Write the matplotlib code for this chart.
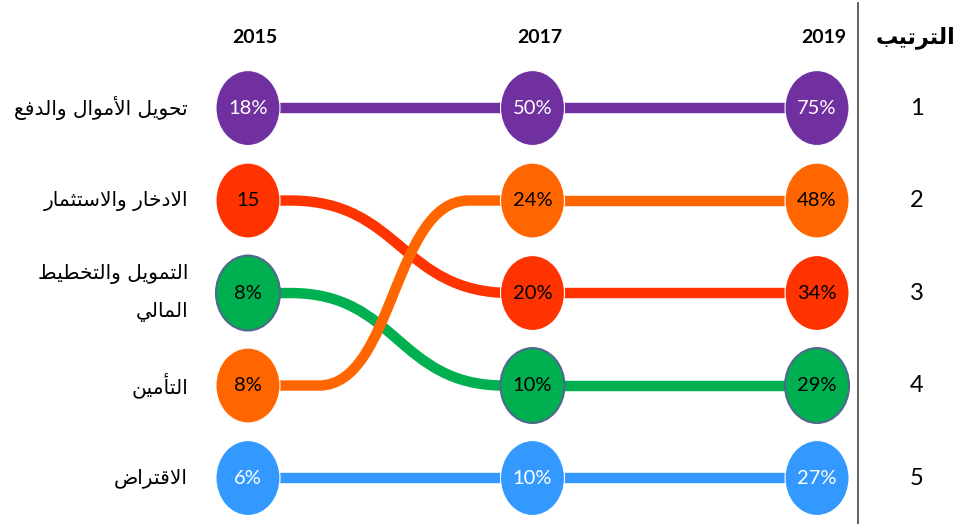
import matplotlib
matplotlib.use("Agg")
import matplotlib.pyplot as plt
from matplotlib.patches import Ellipse, PathPatch
from matplotlib.path import Path
from matplotlib.transforms import blended_transform_factory as blend

# ---- data ----
years = [2015, 2017, 2019]
categories = ["تحويل الأموال والدفع", "الادخار والاستثمار",
              "التمويل والتخطيط\nالمالي", "التأمين", "الاقتراض"]
rank_2015 = [1, 2, 3, 4, 5]
rank_2017 = [1, 3, 4, 2, 5]
rank_2019 = [1, 3, 4, 2, 5]
labels_2015 = ["18%", "15", "8%", "8%", "6%"]
labels_2017 = ["50%", "20%", "10%", "24%", "10%"]
labels_2019 = ["75%", "34%", "29%", "48%", "27%"]
rank_numbers = [1, 2, 3, 4, 5]
rank_header = "الترتيب"

colors = ["#7030A0", "#FF3300", "#00B050", "#FF6600", "#3399FF"]
text_colors = ["white", "black", "black", "black", "white"]
edge_colors = ["white", "white", "#50688C", "white", "white"]
# bezier span of the 2015->2017 connector, per category (in years)
curve_span = [(2015.3, 2016.85), (2015.3, 2016.85), (2015.3, 2016.8),
              (2015.5, 2016.55), (2015.3, 2016.85)]

# ---- minimal Arabic shaping (matplotlib has no complex text layout) ----
_TABLE = [
    ('ء', 0xFE80, 1), ('آ', 0xFE81, 2), ('أ', 0xFE83, 2), ('ؤ', 0xFE85, 2),
    ('إ', 0xFE87, 2), ('ئ', 0xFE89, 4), ('ا', 0xFE8D, 2), ('ب', 0xFE8F, 4),
    ('ة', 0xFE93, 2), ('ت', 0xFE95, 4), ('ث', 0xFE99, 4), ('ج', 0xFE9D, 4),
    ('ح', 0xFEA1, 4), ('خ', 0xFEA5, 4), ('د', 0xFEA9, 2), ('ذ', 0xFEAB, 2),
    ('ر', 0xFEAD, 2), ('ز', 0xFEAF, 2), ('س', 0xFEB1, 4), ('ش', 0xFEB5, 4),
    ('ص', 0xFEB9, 4), ('ض', 0xFEBD, 4), ('ط', 0xFEC1, 4), ('ظ', 0xFEC5, 4),
    ('ع', 0xFEC9, 4), ('غ', 0xFECD, 4), ('ف', 0xFED1, 4), ('ق', 0xFED5, 4),
    ('ك', 0xFED9, 4), ('ل', 0xFEDD, 4), ('م', 0xFEE1, 4), ('ن', 0xFEE5, 4),
    ('ه', 0xFEE9, 4), ('و', 0xFEED, 2), ('ى', 0xFEEF, 2), ('ي', 0xFEF1, 4),
]
FORMS = {c: (b, n) for c, b, n in _TABLE}
LAM_ALEF = {'آ': 0xFEF5, 'أ': 0xFEF7, 'إ': 0xFEF9, 'ا': 0xFEFB}


def shape(text):
    lines = []
    for line in text.split("\n"):
        chars, i = [], 0
        while i < len(line):
            if line[i] == 'ل' and i + 1 < len(line) and line[i + 1] in LAM_ALEF:
                chars.append(('LA', LAM_ALEF[line[i + 1]]))
                i += 2
            else:
                chars.append((line[i], None))
                i += 1
        out = []
        for k, (c, lig) in enumerate(chars):
            prev = chars[k - 1][0] if k > 0 else None
            nxt = chars[k + 1][0] if k + 1 < len(chars) else None
            joins_prev = prev in FORMS and FORMS[prev][1] == 4
            if lig:
                out.append(chr(lig + (1 if joins_prev else 0)))
                continue
            if c not in FORMS:
                out.append(c)
                continue
            base, n = FORMS[c]
            joins_next = n == 4 and (nxt in FORMS or nxt == 'LA')
            if n == 1:
                form = 0
            elif joins_prev and joins_next:
                form = 3
            elif joins_prev:
                form = 1
            elif joins_next:
                form = 2
            else:
                form = 0
            out.append(chr(base + form))
        lines.append("".join(reversed(out)))
    return "\n".join(lines)


# ---- figure ----
fig = plt.figure(figsize=(9.59, 5.24), dpi=100)
ax = fig.add_axes([0, 0, 1, 1])
ax.set_xlim(2013.257, 2019.998)
ax.set_ylim(5.497, -0.168)
ax.axis("off")

NUM_FONT = "Lato"
AR_FONT = "DejaVu Sans"
ranks = [rank_2015, rank_2017, rank_2019]
labels = [labels_2015, labels_2017, labels_2019]

for i in range(len(categories)):
    c = colors[i]
    r0, r1, r2 = rank_2015[i], rank_2017[i], rank_2019[i]
    z = 3 if i == 3 else 2
    if r0 == r1:
        ax.plot([years[0], years[1]], [r0, r1], color=c, lw=7.5,
                solid_capstyle="butt", zorder=z)
    else:
        a, b = curve_span[i]
        m = (a + b) / 2
        verts = [(years[0], r0), (a, r0), (a, r0), (m, r0), (m, r1), (b, r1),
                 (b, r1), (years[1], r1)]
        codes = [Path.MOVETO, Path.LINETO, Path.LINETO, Path.CURVE4,
                 Path.CURVE4, Path.CURVE4, Path.LINETO, Path.LINETO]
        ax.add_patch(PathPatch(Path(verts, codes), facecolor="none",
                               edgecolor=c, lw=7.5, capstyle="butt", zorder=z))
    ax.plot([years[1], years[2]], [r1, r2], color=c, lw=7.5,
            solid_capstyle="butt", zorder=z)

    for yr, rk, lb in zip(years, ranks, labels):
        ax.add_patch(Ellipse((yr, rk[i]), 0.45, 0.81, facecolor=c,
                             edgecolor=edge_colors[i],
                             lw=1.5 if edge_colors[i] != "white" else 0.8,
                             zorder=5))
        ax.text(yr, rk[i], lb[i], ha="center", va="center", fontsize=14.5,
                color=text_colors[i], family=NUM_FONT, zorder=6)

    # category label at the left, right aligned
    ax.text(2014.578, rank_2015[i], shape(categories[i]), ha="right",
            va="center", multialignment="right", fontsize=14.5,
            family=AR_FONT, linespacing=2.2, color="black")

# year headers
top = blend(ax.transData, ax.transAxes)
for yr in years:
    ax.text(yr + 0.05, 0.929, str(yr), transform=top, ha="center",
            va="center", fontsize=14, fontweight="bold", family=NUM_FONT)

# rank column
side = blend(ax.transAxes, ax.transData)
for r in rank_numbers:
    ax.text(0.956, r, str(r), transform=side, ha="center", va="center",
            fontsize=17, family=NUM_FONT)
ax.text(0.955, 0.929, shape(rank_header), transform=ax.transAxes,
        ha="center", va="center", fontsize=16, fontweight="bold",
        family=AR_FONT)
ax.plot([0.895, 0.895], [0.0, 0.995], transform=ax.transAxes,
        color="#555555", lw=1.3)

fig.savefig("out.png", dpi=100)
